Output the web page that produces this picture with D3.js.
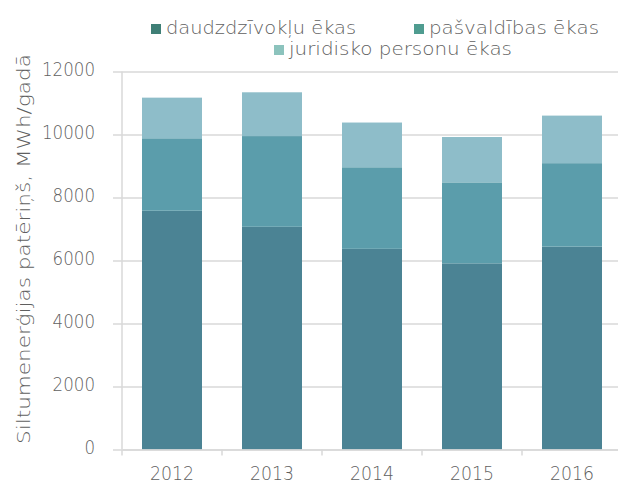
<!DOCTYPE html>
<html>
<head>
<meta charset="utf-8">
<script src="https://cdn.jsdelivr.net/npm/d3@7"></script>
<style>
  html, body { margin: 0; padding: 0; background: #fff; }
  svg { display: block; }
  text { font-family: "DejaVu Sans", sans-serif; font-weight: 200; fill: #5f5f5f; }
</style>
</head>
<body>
<svg id="chart" width="618" height="483"></svg>
<script>
// Heat consumption by building type, MWh per year
const years = ["2012", "2013", "2014", "2015", "2016"];
const seriesNames = ["daudzdzīvokļu ēkas", "pašvaldības ēkas", "juridisko personu ēkas"];
const daudzdzivoklu = [7580, 7070, 6370, 5910, 6440];
const pasvaldibas = [2300, 2880, 2590, 2570, 2650];
const juridisko = [1290, 1390, 1420, 1440, 1510];
const yTicks = [0, 2000, 4000, 6000, 8000, 10000, 12000];
const yTitle = "Siltumenerģijas patēriņš, MWh/gadā";

const barColors = ["#4b8394", "#5b9dab", "#8ebdc9"];
const swatchColors = ["#3f7f76", "#4f9c90", "#8cc3bd"];
const gridColor = "#d9d9d9";
const textColor = "#5f5f5f";

const svg = d3.select("#chart");
const plotLeft = 122, plotRight = 622, plotTop = 71.5, plotBottom = 449.5;
const digitWidth = 10.6;

const x = d3.scaleBand().domain(years).range([plotLeft, plotRight])
  .paddingInner(0.4).paddingOuter(0.2);
const y = d3.scaleLinear().domain([0, 12000]).range([plotBottom, plotTop]);

// gridlines with short outer ticks
svg.append("g")
  .attr("transform", `translate(${plotLeft},0)`)
  .call(d3.axisLeft(y).tickValues(yTicks).tickFormat(d3.format("d"))
    .tickSize(-(plotRight - plotLeft)).tickSizeOuter(0).tickPadding(27))
  .call(g => g.select(".domain").remove())
  .call(g => g.selectAll(".tick line").attr("stroke", gridColor).attr("stroke-width", 1.5).attr("x1", -9))
  .call(g => g.selectAll(".tick text")
    .style("font-size", "20px").style("font-family", "DejaVu Sans, sans-serif").style("font-weight", 200)
    .attr("fill", textColor).attr("dy", "0.2em")
    .attr("textLength", d => String(d).length * digitWidth)
    .attr("lengthAdjust", "spacingAndGlyphs"));

// left axis line
svg.append("line")
  .attr("x1", plotLeft).attr("x2", plotLeft).attr("y1", plotTop).attr("y2", plotBottom)
  .attr("stroke", gridColor).attr("stroke-width", 1.5);

// stacked bars
const rows = years.map((yr, i) => ({ year: yr, a: daudzdzivoklu[i], b: pasvaldibas[i], c: juridisko[i] }));
const layers = d3.stack().keys(["a", "b", "c"])(rows);

svg.append("g").selectAll("g").data(layers).join("g")
  .attr("fill", (d, i) => barColors[i])
  .selectAll("rect").data(d => d).join("rect")
  .attr("x", d => x(d.data.year))
  .attr("width", x.bandwidth())
  .attr("y", d => y(d[1]))
  .attr("height", d => y(d[0]) - y(d[1]));

// bottom axis
svg.append("g")
  .attr("transform", `translate(0,${plotBottom})`)
  .call(d3.axisBottom(x).tickSize(0).tickPadding(17))
  .call(g => g.select(".domain").attr("stroke", gridColor).attr("stroke-width", 1.5))
  .call(g => g.selectAll(".tick text")
    .style("font-size", "19px").style("font-family", "DejaVu Sans, sans-serif").style("font-weight", 200)
    .attr("fill", textColor)
    .attr("textLength", d => d.length * 11)
    .attr("lengthAdjust", "spacingAndGlyphs"));

// category boundary ticks
const step = x.step();
svg.append("g").selectAll("line").data(years).join("line")
  .attr("x1", d => x(d) - step * 0.2)
  .attr("x2", d => x(d) - step * 0.2)
  .attr("y1", plotBottom).attr("y2", plotBottom + 6)
  .attr("stroke", gridColor).attr("stroke-width", 1.5);

// y axis title
svg.append("text")
  .attr("transform", `translate(30,249) rotate(-90)`)
  .attr("text-anchor", "middle")
  .attr("textLength", 390)
  .attr("lengthAdjust", "spacingAndGlyphs")
  .style("font-size", "17px")
  .text(yTitle);

// legend
const legendItems = [
  { name: seriesNames[0], x: 151, y: 24, w: 190 },
  { name: seriesNames[1], x: 414, y: 24, w: 170 },
  { name: seriesNames[2], x: 274, y: 45, w: 223 }
];
const lg = svg.append("g").selectAll("g").data(legendItems).join("g")
  .attr("transform", d => `translate(${d.x},${d.y})`);
lg.append("rect").attr("width", 10).attr("height", 10)
  .attr("fill", (d, i) => swatchColors[i]);
lg.append("text").attr("x", 15).attr("y", 10)
  .attr("textLength", d => d.w)
  .attr("lengthAdjust", "spacingAndGlyphs")
  .style("font-size", "17px")
  .text(d => d.name);
</script>
</body>
</html>
